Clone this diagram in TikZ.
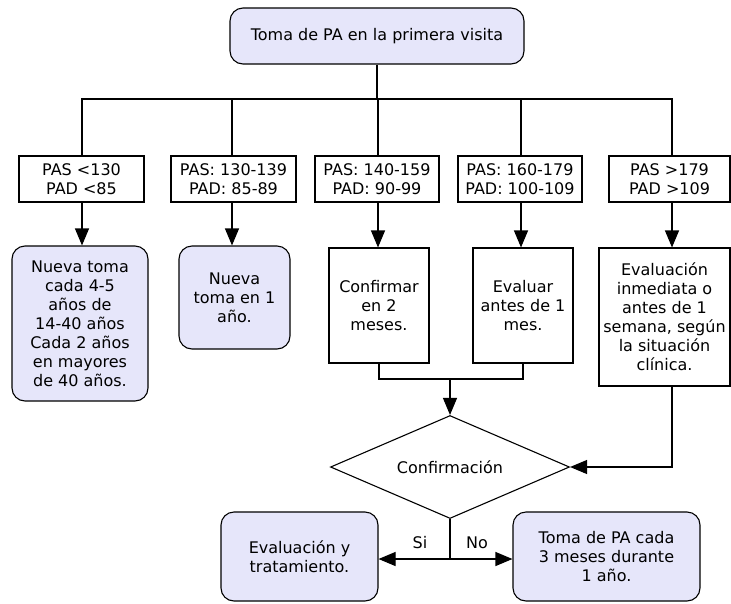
\documentclass[tikz,border=0pt]{standalone}
\usepackage{fontspec}
\setmainfont{DejaVu Sans}
\usetikzlibrary{shapes.geometric,arrows.meta}
\definecolor{lav}{RGB}{230,230,250}
\begin{document}
\begin{tikzpicture}[x=1pt,y=-1pt,
  every node/.style={font=\fontsize{16}{19}\selectfont, align=center, inner sep=0pt},
  rbox/.style={draw=black, fill=lav, rounded corners=13pt, line width=1.1pt},
  sbox/.style={draw=black, fill=white, line width=1.1pt},
  conn/.style={line width=1.1pt},
  arr/.style={conn, -{Triangle[length=17pt,width=14pt]}},
]
\useasboundingbox (0,0) rectangle (731,603);
% top
\node[rbox, minimum width=294pt, minimum height=56pt] (top) at (377,36) {Toma de PA en la primera visita};
% row 1
\node[sbox, minimum width=125pt, minimum height=46pt] (b1) at (81.5,179) {PAS <130\\PAD <85};
\node[sbox, minimum width=125pt, minimum height=46pt] (b2) at (233.5,179) {PAS: 130-139\\PAD: 85-89};
\node[sbox, minimum width=124pt, minimum height=46pt] (b3) at (377,179) {PAS: 140-159\\PAD: 90-99};
\node[sbox, minimum width=124pt, minimum height=46pt] (b4) at (520,179) {PAS: 160-179\\PAD: 100-109};
\node[sbox, minimum width=121pt, minimum height=46pt] (b5) at (669.5,179) {PAS >179\\PAD >109};
% row 2
\node[rbox, minimum width=136pt, minimum height=155pt] (r1) at (80,323.5) {Nueva toma\\cada 4-5\\años de\\14-40 años\\Cada 2 años\\en mayores\\de 40 años.};
\node[rbox, minimum width=111pt, minimum height=103pt] (r2) at (234.5,297.5) {Nueva\\toma en 1\\año.};
\node[sbox, minimum width=100pt, minimum height=115pt] (c3) at (379,305.5) {Confirmar\\en 2\\meses.};
\node[sbox, minimum width=100pt, minimum height=115pt] (c4) at (523,305.5) {Evaluar\\antes de 1\\mes.};
\node[sbox, minimum width=131pt, minimum height=138pt] (c5) at (664.5,317) {Evaluación\\inmediata o\\antes de 1\\\makebox[126pt]{semana, según}\\la situación\\clínica.};
% decision
\node[draw=black, fill=white, line width=1.1pt, diamond, aspect=2.32, minimum width=239pt, minimum height=103pt] (dia) at (450,467) {Confirmación};
% bottom
\node[rbox, minimum width=157pt, minimum height=89pt] (bl) at (299.5,556.5) {Evaluación y\\tratamiento.};
\node[rbox, minimum width=187pt, minimum height=89pt] (br) at (606.5,556.5) {Toma de PA cada\\3 meses durante\\1 año.};
% coordinates
\coordinate (hb) at (377,99);
\coordinate (x1) at (82,0);
\coordinate (x2) at (232,0);
\coordinate (x3) at (378,0);
\coordinate (x4) at (521,0);
\coordinate (x5) at (672,0);
\coordinate (m) at (450,379);
\coordinate (sp) at (450,559);
% connectors
\draw[conn] (top.south) -- (hb);
\draw[conn] (b1.north -| x1) |- (hb) -| (b5.north -| x5);
\draw[conn] (b2.north -| x2) -- (hb -| x2);
\draw[conn] (b3.north -| x3) -- (hb -| x3);
\draw[conn] (b4.north -| x4) -- (hb -| x4);
\draw[arr] (b1.south -| x1) -- (r1.north -| x1);
\draw[arr] (b2.south -| x2) -- (r2.north -| x2);
\draw[arr] (b3.south -| x3) -- (c3.north -| x3);
\draw[arr] (b4.south -| x4) -- (c4.north -| x4);
\draw[arr] (b5.south -| x5) -- (c5.north -| x5);
\draw[conn] (c3.south) |- (m) -| (c4.south);
\draw[arr] (m) -- (dia.north);
\draw[arr] (c5.south -| x5) |- (dia.east);
\draw[conn] (dia.south) -- (sp);
\draw[arr] (sp) -- (sp -| bl.east);
\draw[arr] (sp) -- (sp -| br.west);
\node (si) at (420,543) {Si};
\node (no) at (477,543) {No};
\end{tikzpicture}
\end{document}
